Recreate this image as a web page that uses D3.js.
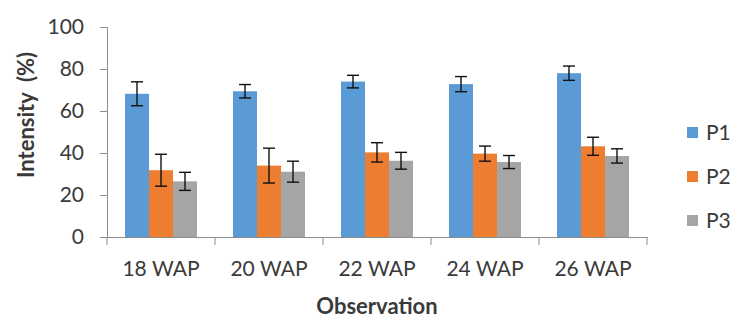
<!DOCTYPE html>
<html lang="en">
<head>
<meta charset="UTF-8">
<title>Intensity by Observation</title>
<script src="https://d3js.org/d3.v7.min.js"></script>
<style>
  body { margin: 0; background: #fff; }
  svg text { font-family: Lato, "Open Sans", sans-serif; fill: #3a3a3a; }
</style>
</head>
<body>
<div id="chart"></div>
<script>
const categories = ["18 WAP", "20 WAP", "22 WAP", "24 WAP", "26 WAP"];
const seriesNames = ["P1", "P2", "P3"];
const p1 = [68.2, 69.4, 74.0, 72.8, 78.0];
const p2 = [31.8, 34.0, 40.3, 39.7, 43.2];
const p3 = [26.5, 31.1, 36.3, 35.7, 38.6];
const p1Err = [5.7, 3.2, 3.0, 3.6, 3.4];
const p2Err = [7.6, 8.3, 4.6, 3.6, 4.3];
const p3Err = [4.3, 5.0, 4.0, 3.1, 3.4];
const yTicks = [0, 20, 40, 60, 80, 100];
const colors = ["#5B9BD5", "#ED7D31", "#A5A5A5"];

const W = 735, H = 318;
const margin = {top: 27, right: 88, bottom: 81, left: 107};
const width = W - margin.left - margin.right;
const height = H - margin.top - margin.bottom;

const svg = d3.select("#chart").append("svg")
    .attr("width", W).attr("height", H);
const g = svg.append("g").attr("transform", `translate(${margin.left},${margin.top})`);

const x = d3.scaleBand().domain(categories).range([0, width]).paddingInner(0).paddingOuter(0);
const inner = d3.scaleBand().domain(seriesNames).range([18, x.bandwidth() - 18]);
const y = d3.scaleLinear().domain([0, 100]).range([height, 0]);

// y axis
const yAxis = g.append("g")
    .call(d3.axisLeft(y).tickValues(yTicks).tickSize(7).tickPadding(16));
yAxis.select(".domain").attr("stroke", "#8c8c8c");
yAxis.selectAll(".tick line").attr("stroke", "#8c8c8c");
yAxis.selectAll("text").style("font-size", "21px").attr("fill", "#3a3a3a");

const rows = seriesNames.map((s, k) => ({
    name: s,
    values: [p1, p2, p3][k],
    errs: [p1Err, p2Err, p3Err][k],
    color: colors[k]
}));

// bars
rows.forEach(r => {
    g.selectAll(null).data(categories).enter().append("rect")
        .attr("x", c => x(c) + inner(r.name))
        .attr("width", inner.bandwidth())
        .attr("y", (c, i) => y(r.values[i]))
        .attr("height", (c, i) => height - y(r.values[i]))
        .attr("fill", r.color);
});

// error bars
rows.forEach(r => {
    const eg = g.selectAll(null).data(categories).enter().append("g")
        .attr("stroke", "#111").attr("stroke-width", 1.4);
    const cx = c => x(c) + inner(r.name) + inner.bandwidth() / 2;
    eg.append("line")
        .attr("x1", cx).attr("x2", cx)
        .attr("y1", (c, i) => y(r.values[i] + r.errs[i]))
        .attr("y2", (c, i) => y(r.values[i] - r.errs[i]));
    eg.append("line")
        .attr("x1", c => cx(c) - 6).attr("x2", c => cx(c) + 6)
        .attr("y1", (c, i) => y(r.values[i] + r.errs[i]))
        .attr("y2", (c, i) => y(r.values[i] + r.errs[i]));
    eg.append("line")
        .attr("x1", c => cx(c) - 6).attr("x2", c => cx(c) + 6)
        .attr("y1", (c, i) => y(r.values[i] - r.errs[i]))
        .attr("y2", (c, i) => y(r.values[i] - r.errs[i]));
});

// x axis
const xAxis = g.append("g").attr("transform", `translate(0,${height})`)
    .call(d3.axisBottom(x).tickSize(0).tickPadding(24));
xAxis.select(".domain").attr("stroke", "#8c8c8c");
xAxis.selectAll("text").style("font-size", "21px").attr("fill", "#3a3a3a");
// boundary ticks between categories
const bounds = categories.map(c => x(c)).concat([width]);
g.selectAll(null).data(bounds).enter().append("line")
    .attr("x1", d => d).attr("x2", d => d)
    .attr("y1", height).attr("y2", height + 8)
    .attr("stroke", "#8c8c8c");

// axis titles
svg.append("text")
    .attr("transform", `translate(34,115) rotate(-90)`)
    .attr("text-anchor", "middle")
    .style("font-size", "22px").style("font-weight", "bold")
    .attr("fill", "#000")
    .attr("xml:space", "preserve")
    .text("Intensity  (%)");

svg.append("text")
    .attr("x", 377).attr("y", 314)
    .attr("text-anchor", "middle")
    .style("font-size", "22px").style("font-weight", "bold")
    .attr("fill", "#000")
    .text("Observation");

// legend
const legend = svg.append("g").attr("transform", "translate(687,0)");
const ly = d3.scalePoint().domain(seriesNames).range([132, 220]);
legend.selectAll("rect").data(rows).enter().append("rect")
    .attr("x", 0).attr("y", d => ly(d.name) - 5)
    .attr("width", 11).attr("height", 11)
    .attr("fill", d => d.color);
legend.selectAll("text").data(rows).enter().append("text")
    .attr("x", 19).attr("y", d => ly(d.name) + 8)
    .style("font-size", "21px").attr("fill", "#3a3a3a")
    .text(d => d.name);
</script>
</body>
</html>
